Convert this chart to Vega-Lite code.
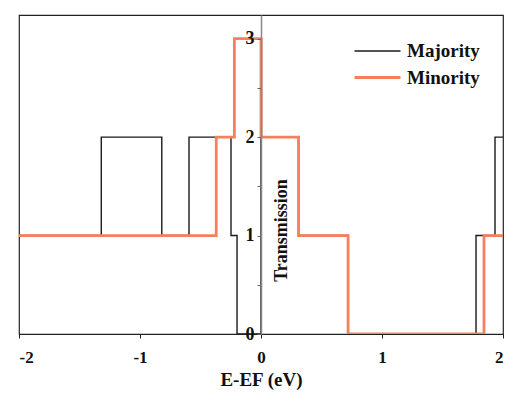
{
  "$schema": "https://vega.github.io/schema/vega-lite/v6.json",
  "autosize": {"type": "none"},
  "padding": {"left": 19, "top": 15, "right": 4, "bottom": 67},
  "width": 484,
  "height": 319,
  "config": {
    "view": {"stroke": "#222", "strokeWidth": 1.2},
    "font": "Liberation Serif"
  },
  "data": {
    "values": [
      {"series": "Majority", "e": -2, "t": 1},
      {"series": "Majority", "e": -1.32, "t": 2},
      {"series": "Majority", "e": -0.82, "t": 1},
      {"series": "Majority", "e": -0.595, "t": 2},
      {"series": "Majority", "e": -0.248, "t": 1},
      {"series": "Majority", "e": -0.198, "t": 0},
      {"series": "Majority", "e": 0, "t": 3},
      {"series": "Majority", "e": 0.004, "t": 2},
      {"series": "Majority", "e": 0.31, "t": 1},
      {"series": "Majority", "e": 0.72, "t": 0},
      {"series": "Majority", "e": 1.777, "t": 1},
      {"series": "Majority", "e": 1.934, "t": 2},
      {"series": "Majority", "e": 2, "t": 2},
      {"series": "Minority", "e": -2, "t": 1},
      {"series": "Minority", "e": -0.37, "t": 2},
      {"series": "Minority", "e": -0.22, "t": 3},
      {"series": "Minority", "e": 0, "t": 2},
      {"series": "Minority", "e": 0.31, "t": 1},
      {"series": "Minority", "e": 0.72, "t": 0},
      {"series": "Minority", "e": 1.843, "t": 1},
      {"series": "Minority", "e": 2, "t": 1}
    ]
  },
  "mark": {"type": "line", "interpolate": "step-after", "clip": true},
  "encoding": {
    "x": {
      "field": "e", "type": "quantitative",
      "scale": {"domain": [-2, 2], "nice": false, "zero": false},
      "axis": {
        "title": "E-EF (eV)",
        "values": [-2, -1, 0, 1, 2],
        "labelExpr": "'' + datum.value",
        "grid": false,
        "domainColor": "#222",
        "tickColor": "#222",
        "tickSize": 4,
        "labelPadding": 11,
        "labelFont": "Liberation Serif",
        "labelFontSize": 17,
        "labelFontWeight": "bold",
        "labelColor": "#111",
        "titleFont": "Liberation Serif",
        "titleFontSize": 19,
        "titleFontWeight": "bold",
        "titleColor": "#111",
        "titlePadding": 5
      }
    },
    "y": {
      "field": "t", "type": "quantitative",
      "scale": {"domain": [0, 3.24], "nice": false},
      "axis": {
        "title": "Transmission",
        "offset": -242,
        "zindex": 1,
        "values": [0, 0.5, 1, 1.5, 2, 2.5, 3],
        "labelExpr": "datum.value % 1 == 0 ? '' + datum.value : ''",
        "grid": false,
        "domainColor": "#888",
        "domainWidth": 1.5,
        "tickColor": "#666",
        "tickSize": 4,
        "labelPadding": 3,
        "labelFont": "Liberation Serif",
        "labelFontSize": 18,
        "labelFontWeight": "bold",
        "labelColor": "#111",
        "titleFont": "Liberation Serif",
        "titleFontSize": 18,
        "titleFontWeight": "bold",
        "titleColor": "#111",
        "titleAngle": 270,
        "titleX": 20,
        "titleY": 215,
        "titleAlign": "center",
        "titleBaseline": "middle"
      }
    },
    "color": {
      "field": "series", "type": "nominal",
      "scale": {"domain": ["Majority", "Minority"], "range": ["#1a1a1a", "#f5805d"]},
      "legend": {
        "title": null,
        "orient": "none",
        "legendX": 345.5,
        "legendY": 23.5,
        "symbolType": "M-2,0H2",
        "symbolSize": 529,
        "symbolFillColor": "transparent",
        "labelFont": "Liberation Serif",
        "labelFontSize": 19,
        "labelFontWeight": "bold",
        "labelColor": "#111",
        "rowPadding": 3,
        "labelOffset": 16.5
      }
    },
    "strokeWidth": {
      "field": "series", "type": "nominal",
      "scale": {"domain": ["Majority", "Minority"], "range": [1.4, 2.8]},
      "legend": null
    }
  }
}
